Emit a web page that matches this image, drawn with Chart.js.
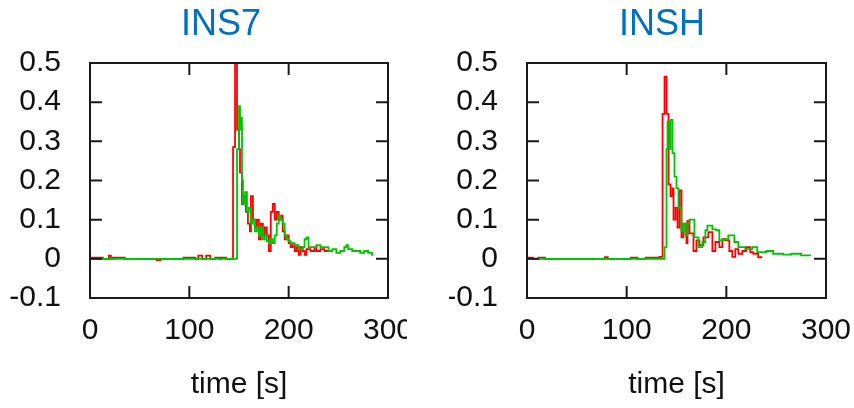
<!DOCTYPE html>
<html>
<head>
<meta charset="utf-8">
<script src="https://cdn.jsdelivr.net/npm/chart.js@4/dist/chart.umd.min.js"></script>
<style>
  html, body { margin: 0; padding: 0; background: #ffffff; overflow: hidden; }
  #wrap { position: relative; width: 854px; height: 408px; overflow: hidden; }
  .panel { position: absolute; top: 0; height: 408px; overflow: hidden; }
  #p1 { left: 0; width: 407px; }
  #p2 { left: 411px; width: 443px; }
  canvas { display: block; }
</style>
</head>
<body>
<div id="wrap">
  <div class="panel" id="p1"><canvas id="c1" width="433" height="408"></canvas></div>
  <div class="panel" id="p2"><canvas id="c2" width="464" height="408"></canvas></div>
</div>
<script>
// Axis ticks
const xTickLabels = ['0', '100', '200', '300'];
const yTickLabels = ['-0.1', '0', '0.1', '0.2', '0.3', '0.4', '0.5'];

// INS7 panel: red trace (time in s, value)
const ins7RedTime  = [0, 13, 19, 21, 23, 35, 67, 71, 94, 106, 109, 113, 117, 121, 126, 131, 132, 137,
  144, 146, 148, 150, 151, 153, 155, 157, 159, 161, 162, 164, 166, 168, 170, 172, 174, 176, 178,
  180, 182, 184, 186, 188, 190, 192, 194, 196, 198, 200, 202, 204, 206, 208, 210, 212, 214, 216,
  218, 222, 226, 228, 232, 236, 240];
const ins7RedValue = [0.003, 0, 0.008, 0, 0.003, 0, -0.003, 0, 0.003, 0, 0.008, 0, 0.008, 0, 0.003, 0, 0.003, 0,
  0.285, 0.52, 0.33, 0.28, 0.22, 0.14, 0.16, 0.12, 0.09, 0.07, 0.16, 0.1, 0.08, 0.1, 0.05, 0.09, 0.06, 0.08, 0.06,
  0.02, 0.12, 0.14, 0.1, 0.12, 0.1, 0.11, 0.07, 0.05, 0.06, 0.04, 0.03, 0.035, 0.02, 0.03, 0.01, 0.03, 0.02, 0.01,
  0.025, 0.02, 0.03, 0.02, 0.025, 0.02, 0.02];

// INS7 panel: green trace
const ins7GreenTime  = [0, 148, 150, 151, 152, 153, 154, 156, 158, 160, 162, 164, 166, 168, 170, 172, 174, 176,
  178, 180, 182, 184, 186, 188, 190, 192, 194, 196, 198, 200, 202, 206, 210, 214, 216, 218, 220, 224, 228,
  232, 236, 240, 244, 248, 252, 256, 258, 260, 264, 268, 272, 276, 280, 284, 285];
const ins7GreenValue = [0, 0.28, 0.39, 0.33, 0.36, 0.2, 0.14, 0.17, 0.12, 0.13, 0.09, 0.1, 0.07, 0.08, 0.06, 0.08, 0.05, 0.06,
  0.045, 0.04, 0.05, 0.04, 0.06, 0.09, 0.11, 0.1, 0.09, 0.06, 0.05, 0.045, 0.04, 0.035, 0.025, 0.03, 0.05, 0.055, 0.03, 0.03, 0.035,
  0.03, 0.03, 0.02, 0.025, 0.015, 0.02, 0.03, 0.035, 0.025, 0.02, 0.02, 0.015, 0.02, 0.015, 0.01, 0.01];

// INSH panel: red trace
const inshRedTime  = [0, 6, 12, 18, 78, 81, 104, 111, 119, 133, 136, 138, 140, 142, 144, 146, 147, 149, 151,
  153, 155, 157, 160, 161, 163, 167, 170, 173, 177, 182, 186, 189, 193, 196, 199, 203, 206, 209, 212,
  216, 220, 224, 227, 232, 236];
const inshRedValue = [0.003, 0, 0.003, 0, 0.004, 0, 0.003, 0, 0.003, 0.005, 0.37, 0.465, 0.37, 0.19, 0.16, 0.18, 0.1, 0.13, 0.08,
  0.175, 0.055, 0.09, 0.04, 0.097, 0.065, 0.02, 0.047, 0.035, 0.055, 0.068, 0.02, 0.043, 0.03, 0.05, 0.047, 0.02, 0.005, 0.025, 0.013,
  0.02, 0.03, 0.017, 0.013, 0.004, 0.004];

// INSH panel: green trace
const inshGreenTime  = [0, 138, 140, 141, 143, 144, 146, 148, 150, 152, 155, 157, 159, 161, 163, 168, 172, 176,
  179, 181, 186, 190, 193, 197, 202, 208, 212, 219, 226, 231, 240, 247, 257, 265, 275, 285];
const inshGreenValue = [0, 0.03, 0.28, 0.35, 0.28, 0.355, 0.27, 0.21, 0.18, 0.13, 0.07, 0.09, 0.06, 0.09, 0.1, 0.055, 0.03, 0.043,
  0.073, 0.085, 0.075, 0.073, 0.047, 0.05, 0.06, 0.043, 0.03, 0.025, 0.03, 0.017, 0.02, 0.013, 0.011, 0.013, 0.009, 0.009];

const FONT = '"Liberation Sans", Arial, Helvetica, sans-serif';
const RED = '#ff0000';
const GREEN = '#00c400';

// Closed frame with inward tick marks on all four sides
const frameTicks = {
  id: 'frameTicks',
  afterDatasetsDraw(chart) {
    const { ctx, chartArea: a, scales: { x, y } } = chart;
    const len = 12;
    ctx.save();
    ctx.strokeStyle = '#1a1a1a';
    ctx.lineWidth = 2;
    ctx.strokeRect(a.left, a.top, a.right - a.left, a.bottom - a.top);
    ctx.beginPath();
    x.ticks.forEach(t => {
      const px = x.getPixelForValue(t.value);
      ctx.moveTo(px, a.bottom); ctx.lineTo(px, a.bottom - len);
      ctx.moveTo(px, a.top);    ctx.lineTo(px, a.top + len);
    });
    y.ticks.forEach(t => {
      const py = y.getPixelForValue(t.value);
      ctx.moveTo(a.left, py);  ctx.lineTo(a.left + len, py);
      ctx.moveTo(a.right, py); ctx.lineTo(a.right - len, py);
    });
    ctx.stroke();
    ctx.restore();
  }
};

function toPoints(times, values) {
  return times.map((t, i) => ({ x: t, y: values[i] }));
}

// padLeft: space left of the y axis; axisWidth: y axis box width; rightGap: space right of the plot
function makePanel(canvasId, title, redT, redV, greenT, greenV, padLeft, axisWidth, rightGap) {
  return new Chart(document.getElementById(canvasId), {
    type: 'line',
    data: {
      datasets: [
        { label: 'green', data: toPoints(greenT, greenV), borderColor: GREEN, borderWidth: 1.8,
          stepped: true, pointRadius: 0, fill: false, order: 0 },
        { label: 'red', data: toPoints(redT, redV), borderColor: RED, borderWidth: 1.8,
          stepped: true, pointRadius: 0, fill: false, order: 1 }
      ]
    },
    options: {
      responsive: false,
      animation: false,
      parsing: false,
      layout: { padding: { left: padLeft, right: 0, top: 0, bottom: 0 } },
      plugins: {
        legend: { display: false },
        tooltip: { enabled: false },
        title: {
          display: true, text: title, color: '#0070c0',
          font: { family: FONT, size: 36, weight: 'normal' },
          padding: { top: 3, bottom: 16.8 }
        }
      },
      scales: {
        x: {
          type: 'linear', min: 0, max: 300,
          grid: { display: false, drawTicks: false },
          border: { display: false },
          ticks: {
            stepSize: 100, autoSkip: false, maxRotation: 0, padding: 15, color: '#111',
            font: { family: FONT, size: 30 },
            callback: (v, i) => xTickLabels[i]
          },
          title: {
            display: true, text: 'time [s]', color: '#111',
            font: { family: FONT, size: 30 },
            padding: { top: 4, bottom: 5 }
          },
          afterFit(s) { s.height = 110; s.paddingLeft = 0; s.paddingRight = rightGap; }
        },
        y: {
          min: -0.1, max: 0.5,
          grid: { display: false, drawTicks: false },
          border: { display: false },
          ticks: {
            stepSize: 0.1, autoSkip: false, padding: 29, color: '#111',
            font: { family: FONT, size: 30 },
            callback: (v, i) => yTickLabels[i]
          },
          afterFit(s) { s.width = axisWidth; }
        }
      }
    },
    plugins: [frameTicks]
  });
}

makePanel('c1', 'INS7', ins7RedTime, ins7RedValue, ins7GreenTime, ins7GreenValue, 9, 81, 45);
makePanel('c2', 'INSH', inshRedTime, inshRedValue, inshGreenTime, inshGreenValue, 38, 78, 49);
</script>
</body>
</html>
